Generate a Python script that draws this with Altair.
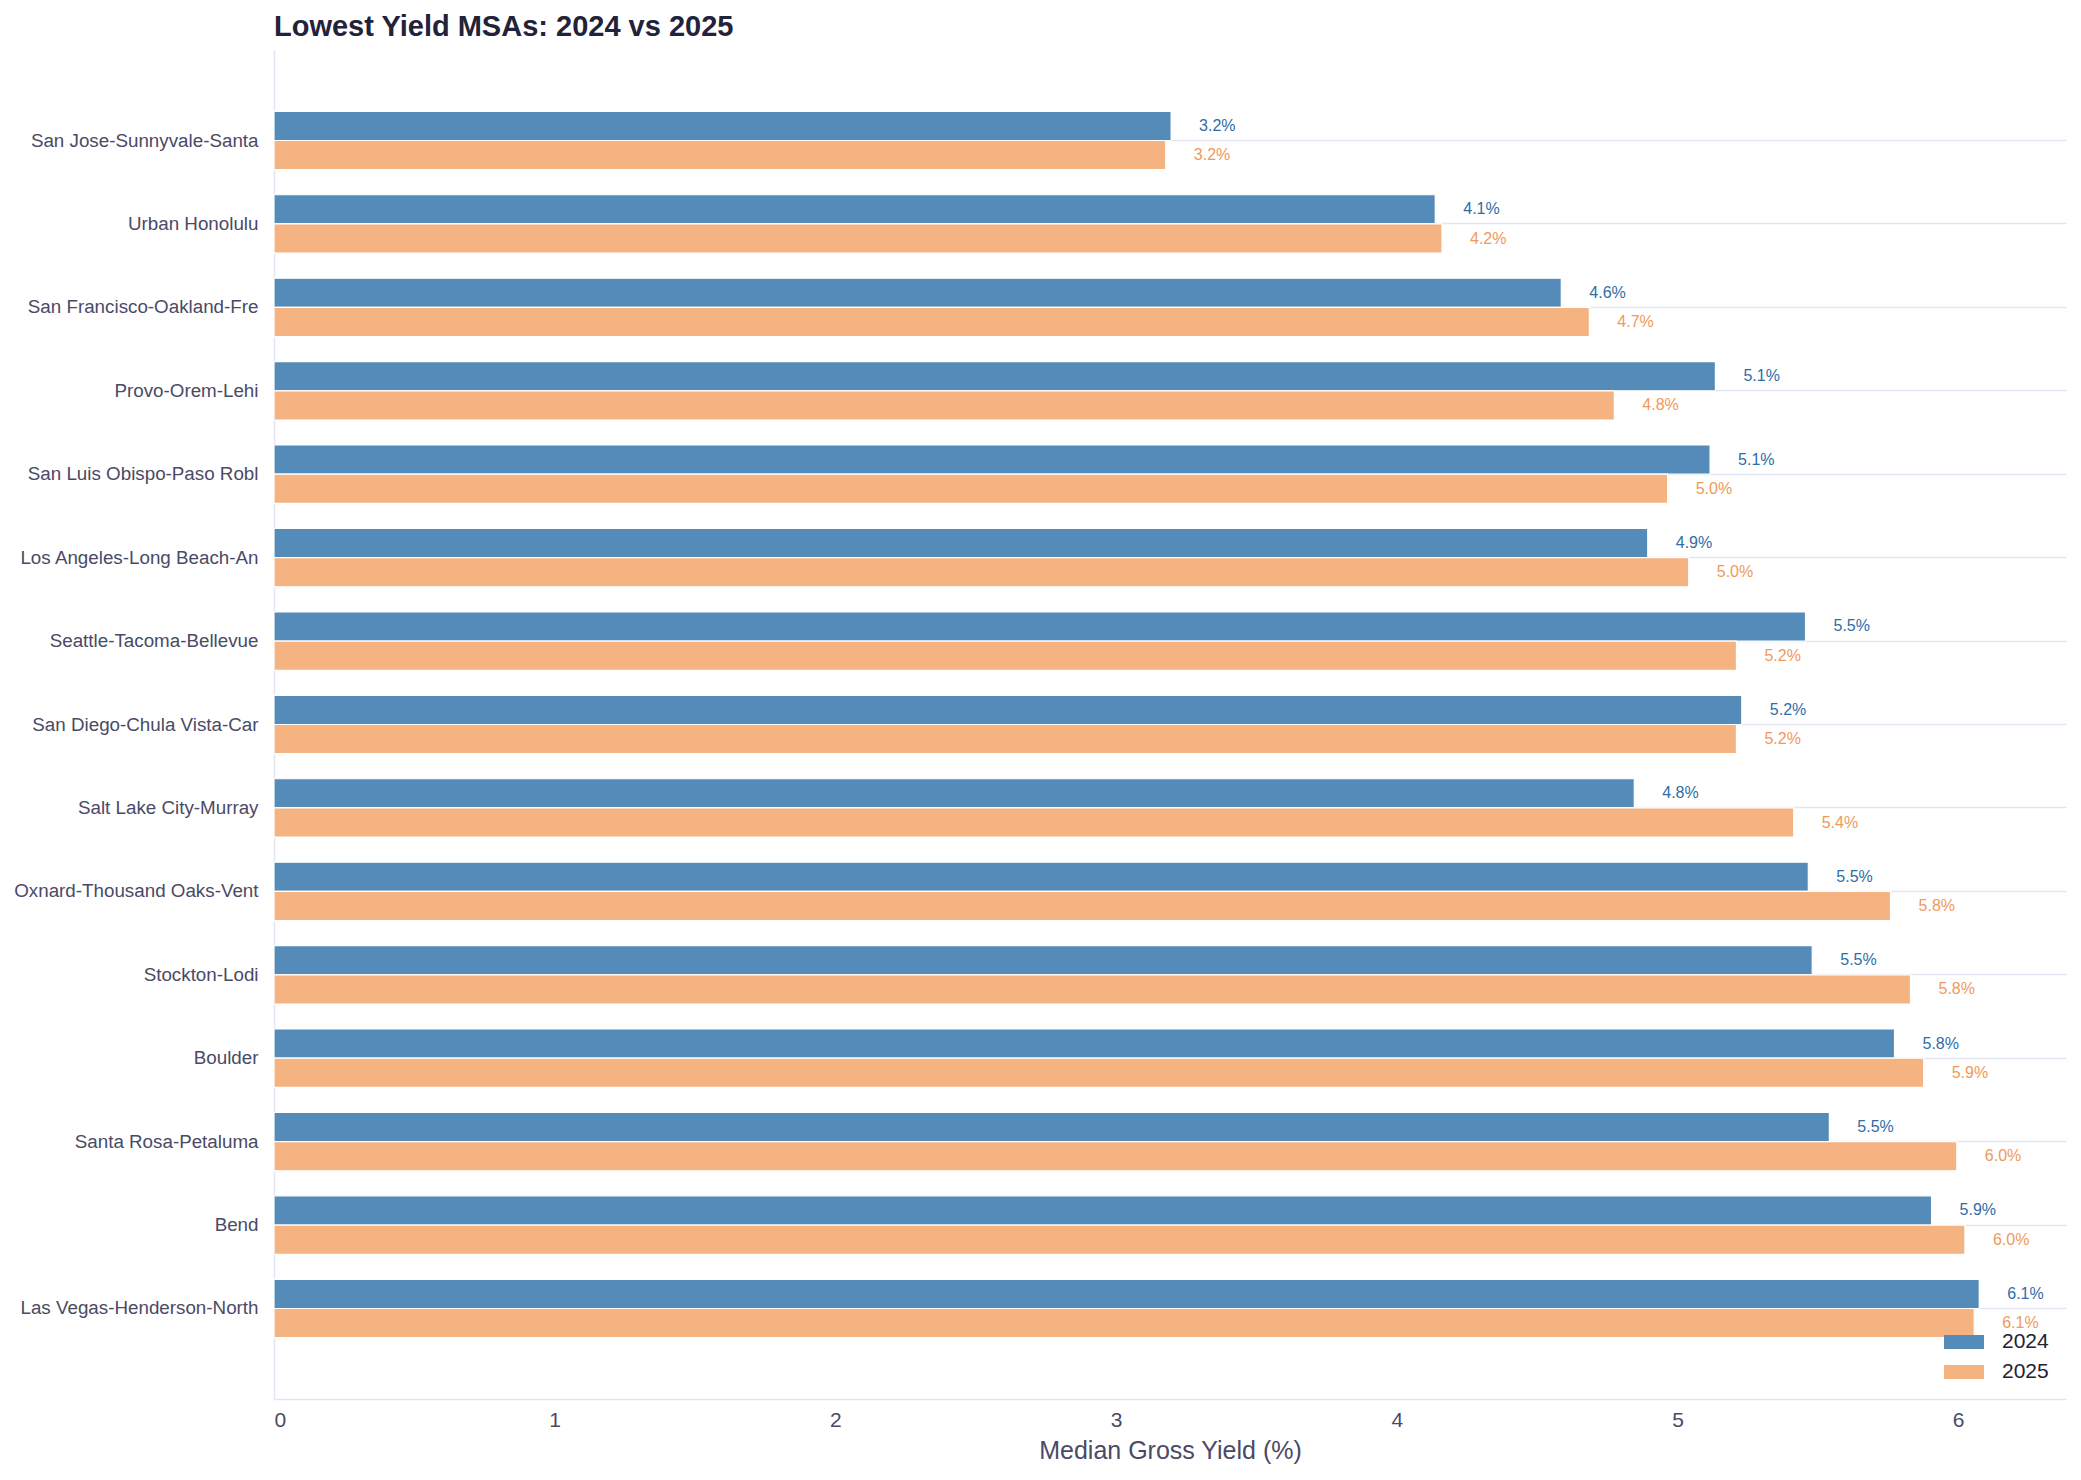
import altair as alt
import pandas as pd

msas = [
    "San Jose-Sunnyvale-Santa",
    "Urban Honolulu",
    "San Francisco-Oakland-Fre",
    "Provo-Orem-Lehi",
    "San Luis Obispo-Paso Robl",
    "Los Angeles-Long Beach-An",
    "Seattle-Tacoma-Bellevue",
    "San Diego-Chula Vista-Car",
    "Salt Lake City-Murray",
    "Oxnard-Thousand Oaks-Vent",
    "Stockton-Lodi",
    "Boulder",
    "Santa Rosa-Petaluma",
    "Bend",
    "Las Vegas-Henderson-North",
]
y2024 = [3.196, 4.137, 4.586, 5.135, 5.116, 4.894, 5.456, 5.229, 4.846, 5.466, 5.480, 5.773, 5.541, 5.905, 6.075]
y2025 = [3.177, 4.161, 4.686, 4.775, 4.965, 5.040, 5.210, 5.210, 5.414, 5.759, 5.830, 5.877, 5.995, 6.024, 6.057]

years = ["2024", "2025"]
bar_colors = ["#548BB8", "#F5B381"]
label_colors = ["#2E6DA8", "#F0995A"]
x_ticks = [0, 1, 2, 3, 4, 5, 6]

rows = []
for m, a, b in zip(msas, y2024, y2025):
    rows.append({"msa": m, "year": "2024", "value": a})
    rows.append({"msa": m, "year": "2025", "value": b})
df = pd.DataFrame(rows)
df["label"] = df["value"].map(lambda v: f"{v:.1f}%")

FONT = "Liberation Sans, Arial, Helvetica, sans-serif"
AXIS_TXT = "#4A4A66"
LINE = "#E3E5F3"

y_enc = alt.Y(
    "msa:N",
    sort=msas,
    scale=alt.Scale(paddingInner=0, paddingOuter=0.585),
    axis=alt.Axis(
        title=None,
        ticks=False,
        grid=True,
        gridColor=LINE,
        gridWidth=1.5,
        bandPosition=0.5,
        labelFontSize=18.8,
        labelColor=AXIS_TXT,
        labelFont=FONT,
        labelPadding=16,
        labelLimit=0,
        domainColor=LINE,
        domainWidth=1.5,
    ),
)
yoff = alt.YOffset("year:N", sort=years, scale=alt.Scale(paddingInner=0, paddingOuter=0.4286))
x_enc = alt.X(
    "value:Q",
    scale=alt.Scale(domain=[0, 6.384], nice=False, zero=True),
    axis=alt.Axis(
        values=x_ticks,
        ticks=False,
        grid=False,
        title="Median Gross Yield (%)",
        titleFontSize=25,
        titleFontWeight="normal",
        titleColor=AXIS_TXT,
        titleFont=FONT,
        titlePadding=8,
        labelFontSize=21,
        labelColor=AXIS_TXT,
        labelFont=FONT,
        labelPadding=10,
        domainColor=LINE,
        domainWidth=1.5,
    ),
)

bars = alt.Chart(df).mark_bar(stroke="white", strokeWidth=1.2, opacity=1).encode(
    y=y_enc,
    yOffset=yoff,
    x=x_enc,
    color=alt.Color(
        "year:N",
        scale=alt.Scale(domain=years, range=bar_colors),
        legend=alt.Legend(
            title=None,
            orient="none",
            legendX=1670,
            legendY=1272,
            symbolType="M-1,-0.35L1,-0.35L1,0.35L-1,0.35Z",
            symbolSize=1600,
            symbolStrokeWidth=0,
            symbolOpacity=1,
            labelFontSize=21,
            labelColor="#222233",
            labelFont=FONT,
            labelOffset=18,
            rowPadding=-3,
            padding=0,
        ),
    ),
)

labels = alt.Chart(df).mark_text(
    align="left", baseline="middle", dx=28, fontSize=16, font=FONT
).encode(
    y=y_enc,
    yOffset=yoff,
    x=x_enc,
    text="label:N",
    color=alt.Color("year:N", scale=alt.Scale(domain=years, range=label_colors), legend=None),
)

chart = (
    alt.layer(bars, labels)
    .resolve_scale(color="independent")
    .properties(
        width=1792,
        height=1349,
        background="white",
        title=alt.TitleParams(
            "Lowest Yield MSAs: 2024 vs 2025",
            anchor="start",
            frame="group",
            fontSize=29,
            fontWeight="bold",
            color="#22223A",
            font=FONT,
            offset=8,
        ),
    )
    .configure_view(stroke=None)
)

chart.save("out.html", embed_options={"renderer": "svg", "actions": False})
